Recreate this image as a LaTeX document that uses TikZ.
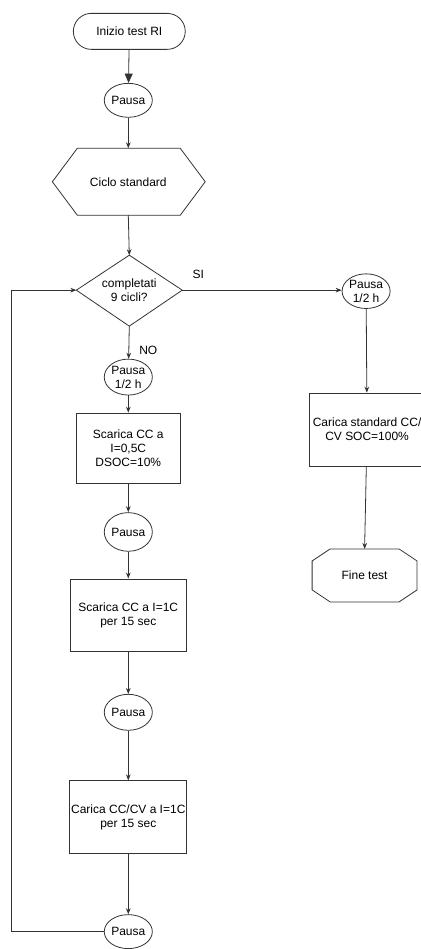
\documentclass[tikz,border=0pt]{standalone}
\usepackage{fontspec}
\setmainfont{Liberation Sans}
\usetikzlibrary{shapes.geometric,arrows.meta}
\begin{document}
\begin{tikzpicture}[x=0.75pt,y=-0.75pt,
  font=\fontsize{9}{10.5}\selectfont,
  line width=0.6pt,
  every path/.style={draw=black!80},
  pausa/.style={ellipse, draw=black!80, inner sep=0pt, minimum width=36pt, minimum height=27pt, align=center},
  box/.style={rectangle, draw=black!80, align=center, inner sep=1pt},
  lbl/.style={inner sep=0pt, align=center},
  arr/.style={-{Stealth[length=4.5pt,width=3.5pt]}},
  bigarr/.style={-{Triangle[length=7pt,width=6pt]}}]
\useasboundingbox (0,0) rectangle (420,949);
\fill[white] (0,0) rectangle (420,949);

% start
\node[draw=black!80, rounded corners=13.5pt, minimum width=84pt, minimum height=27pt] (start) at (129,31) {Inizio test RI};
\node[pausa, minimum height=25.5pt] (p1) at (128,100) {Pausa};

% hexagon
\draw (77,148) -- (180,148) -- (205,181.5) -- (180,215) -- (77,215) -- (52,181.5) -- cycle;
\node[lbl] (ciclo) at (128,182) {Ciclo standard};
\coordinate (cicloN) at (128,148);
\coordinate (cicloS) at (128,215);

% diamond
\draw (129,255) -- (182,290) -- (129,326) -- (76,290) -- cycle;
\node[lbl] (comp) at (129,290) {completati\\9 cicli?};
\coordinate (dN) at (129,255);
\coordinate (dE) at (182,290);
\coordinate (dS) at (129,326);
\coordinate (dW) at (76,290);

% right branch
\node[pausa, minimum height=26pt] (p2) at (366,291) {Pausa\\1/2 h};
\node[box, minimum width=87pt, minimum height=54.75pt] (cs) at (367,429.5) {Carica standard CC/\\CV SOC=100\%};
\draw (312,561) -- (330,549) -- (399,549) -- (417,561) -- (417,590) -- (399,602) -- (330,602) -- (312,590) -- cycle;
\node[lbl] (fine) at (364.5,575.5) {Fine test};
\coordinate (fineN) at (364.5,549);

% left column
\node[pausa] (p3) at (128,377) {Pausa\\1/2 h};
\node[box, minimum width=78pt, minimum height=52.5pt] (b1) at (128,448) {Scarica CC a\\I=0,5C\\DSOC=10\%};
\node[pausa, minimum height=29pt] (p4) at (128,532) {Pausa};
\node[box, minimum width=87pt, minimum height=54.75pt] (b2) at (128,615.5) {Scarica CC a I=1C\\per 15 sec};
\node[pausa] (p5) at (128,712.5) {Pausa};
\node[box, minimum width=87pt, minimum height=54.75pt] (b3) at (128,817.5) {Carica CC/CV a I=1C\\per 15 sec};
\node[pausa, minimum height=25.5pt] (p6) at (128,932) {Pausa};

% labels
\node[lbl] (si) at (198,274) {SI};
\node[lbl] (no) at (148,350) {NO};

% connectors
\draw[bigarr] (start) -- (p1);
\draw[arr] (p1) -- (cicloN);
\draw[arr] (cicloS) -- (dN);
\draw[arr] (dE) -- (dE -| p2.west);
\draw[arr] (p2) -- (cs);
\draw[arr] (cs) -- (fineN);
\draw[arr] (dS) -- (p3);
\draw[arr] (p3) -- (b1);
\draw[arr] (b1) -- (p4);
\draw[arr] (p4) -- (b2);
\draw[arr] (b2) -- (p5);
\draw[arr] (p5) -- (b3);
\draw[arr] (b3) -- (p6);
\coordinate (loopB) at (11,932);
\coordinate (loopT) at (11,290);
\draw[arr] (p6.west) -- (loopB) -- (loopT) -- (dW);
\end{tikzpicture}
\end{document}
